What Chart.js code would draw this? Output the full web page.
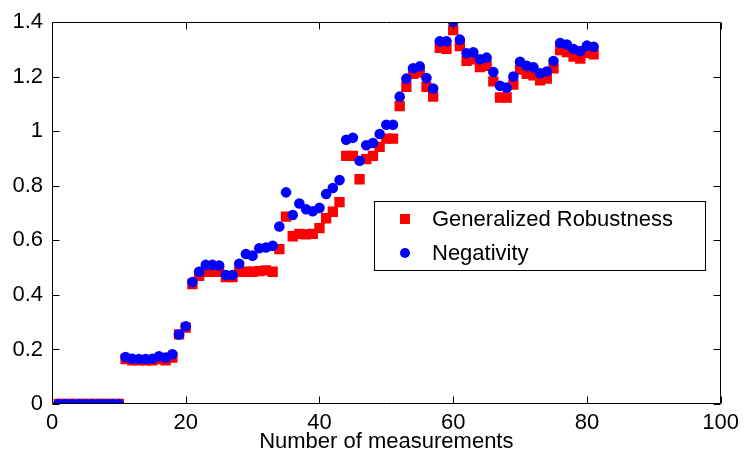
<!DOCTYPE html>
<html>
<head>
<meta charset="utf-8">
<script src="https://cdn.jsdelivr.net/npm/chart.js@4/dist/chart.umd.min.js"></script>
<style>
  html, body { margin: 0; padding: 0; background: #fff; }
  #wrap { width: 745px; height: 461px; position: relative; }
</style>
</head>
<body>
<div id="wrap"><canvas id="c" width="745" height="461"></canvas></div>
<script>
const measurements = [1,2,3,4,5,6,7,8,9,10,11,12,13,14,15,16,17,18,19,20,21,22,23,24,25,26,27,28,29,30,31,32,33,34,35,36,37,38,39,40,41,42,43,44,45,46,47,48,49,50,51,52,53,54,55,56,57,58,59,60,61,62,63,64,65,66,67,68,69,70,71,72,73,74,75,76,77,78,79,80,81];

const generalizedRobustness = [
  0,0,0,0,0,0,0,0,0,0,
  0.165,0.16,0.16,0.16,0.16,0.165,0.16,0.17,0.255,0.28,
  0.44,0.47,0.485,0.485,0.485,0.465,0.465,0.485,0.485,0.485,
  0.487,0.49,0.485,0.568,0.687,0.615,0.624,0.622,0.624,0.645,
  0.681,0.705,0.740,0.910,0.910,0.824,0.898,0.910,0.943,0.973,
  0.973,1.092,1.163,1.211,1.215,1.163,1.127,1.306,1.302,1.371,
  1.312,1.258,1.264,1.235,1.240,1.183,1.124,1.124,1.171,1.226,
  1.211,1.205,1.187,1.193,1.231,1.298,1.290,1.274,1.267,1.288,
  1.282
];

const negativity = [
  0,0,0,0,0,0,0,0,0,0,
  0.172,0.166,0.165,0.165,0.166,0.175,0.17,0.182,0.255,0.285,
  0.447,0.485,0.51,0.51,0.508,0.473,0.473,0.514,0.55,0.544,
  0.571,0.574,0.58,0.651,0.776,0.693,0.735,0.714,0.707,0.719,
  0.770,0.792,0.821,0.969,0.976,0.892,0.949,0.957,0.990,1.024,
  1.024,1.127,1.193,1.231,1.238,1.195,1.157,1.330,1.330,1.401,
  1.336,1.286,1.290,1.264,1.270,1.217,1.167,1.160,1.201,1.255,
  1.240,1.235,1.213,1.219,1.258,1.324,1.318,1.302,1.294,1.314,
  1.310
];

const seriesLabels = ['Generalized Robustness', 'Negativity'];
const xTickValues = [0, 20, 40, 60, 80, 100];
const yTickValues = [0, 0.2, 0.4, 0.6, 0.8, 1, 1.2, 1.4];
const yTickLabels = ['0', '0.2', '0.4', '0.6', '0.8', '1', '1.2', '1.4'];
const xTitle = 'Number of measurements';

const FONT = 'Liberation Sans';

function toPoints(xs, ys) {
  return xs.map((x, i) => ({ x: x, y: ys[i] }));
}

const boxPlugin = {
  id: 'matlabBox',
  afterDraw(chart) {
    const ctx = chart.ctx;
    const a = chart.chartArea;
    const xs = chart.scales.x, ys = chart.scales.y;
    ctx.save();
    ctx.strokeStyle = '#000';
    ctx.lineWidth = 1;
    const L = Math.round(a.left) + 0.5, R = Math.round(a.right) - 0.5;
    const T = Math.round(a.top) + 0.5, B = Math.round(a.bottom) - 0.5;
    ctx.beginPath();
    ctx.rect(L, T, R - L, B - T);
    ctx.stroke();
    const tl = 7;
    ctx.beginPath();
    xTickValues.forEach(v => {
      const px = Math.round(xs.getPixelForValue(v)) + 0.5;
      ctx.moveTo(px, B); ctx.lineTo(px, B - tl);
      ctx.moveTo(px, T); ctx.lineTo(px, T + tl);
    });
    yTickValues.forEach(v => {
      const py = Math.round(ys.getPixelForValue(v)) + 0.5;
      ctx.moveTo(L, py); ctx.lineTo(L + tl, py);
      ctx.moveTo(R, py); ctx.lineTo(R - tl, py);
    });
    ctx.stroke();

    // legend box
    const lx = 374, ly = 201, lw = 331, lh = 69;
    ctx.fillStyle = '#fff';
    ctx.fillRect(lx, ly, lw, lh);
    ctx.strokeRect(lx + 0.5, ly + 0.5, lw, lh);
    const ds = chart.data.datasets;
    const rows = [219, 253];
    ctx.font = '22px "' + FONT + '"';
    ctx.textBaseline = 'middle';
    ctx.textAlign = 'left';
    seriesLabels.forEach((lab, i) => {
      const cy = rows[i];
      ctx.fillStyle = ds[i].backgroundColor;
      if (i === 0) {
        ctx.fillRect(400, cy - 5, 10, 10);
      } else {
        ctx.beginPath();
        ctx.arc(405, cy, 5, 0, Math.PI * 2);
        ctx.fill();
      }
      ctx.fillStyle = '#000';
      ctx.fillText(lab, 432, cy + 1);
    });
    ctx.restore();
  }
};

new Chart(document.getElementById('c'), {
  type: 'scatter',
  data: {
    datasets: [
      {
        label: seriesLabels[0],
        data: toPoints(measurements, generalizedRobustness),
        pointStyle: 'rect',
        pointRadius: 7.3,
        backgroundColor: '#ff0000',
        borderColor: '#ff0000',
        borderWidth: 0,
        order: 1
      },
      {
        label: seriesLabels[1],
        data: toPoints(measurements, negativity),
        pointStyle: 'circle',
        pointRadius: 5.3,
        backgroundColor: '#0000ff',
        borderColor: '#0000ff',
        borderWidth: 0,
        order: 0
      }
    ]
  },
  options: {
    responsive: false,
    animation: false,
    devicePixelRatio: 1,
    layout: { padding: { top: 12, right: 22, left: 0, bottom: 0 } },
    plugins: {
      legend: { display: false },
      tooltip: { enabled: false }
    },
    scales: {
      x: {
        type: 'linear',
        min: 0, max: 100,
        afterFit(s) { s.height = 57; },
        afterBuildTicks(s) { s.ticks = xTickValues.map(v => ({ value: v })); },
        grid: { display: false, drawTicks: false },
        border: { display: false },
        ticks: {
          color: '#000',
          font: { family: FONT, size: 22 },
          padding: 6,
          maxRotation: 0,
          autoSkip: false
        },
        title: {
          display: true,
          text: xTitle,
          color: '#000',
          font: { family: FONT, size: 22 },
          padding: { top: 0, bottom: 6 }
        }
      },
      y: {
        type: 'linear',
        min: 0, max: 1.4,
        afterFit(s) { s.width = 52; },
        afterBuildTicks(s) { s.ticks = yTickValues.map(v => ({ value: v })); },
        grid: { display: false, drawTicks: false },
        border: { display: false },
        ticks: {
          color: '#000',
          font: { family: FONT, size: 22 },
          padding: 9,
          autoSkip: false,
          callback: function(value, index) { return yTickLabels[index]; }
        }
      }
    }
  },
  plugins: [boxPlugin]
});
</script>
</body>
</html>
